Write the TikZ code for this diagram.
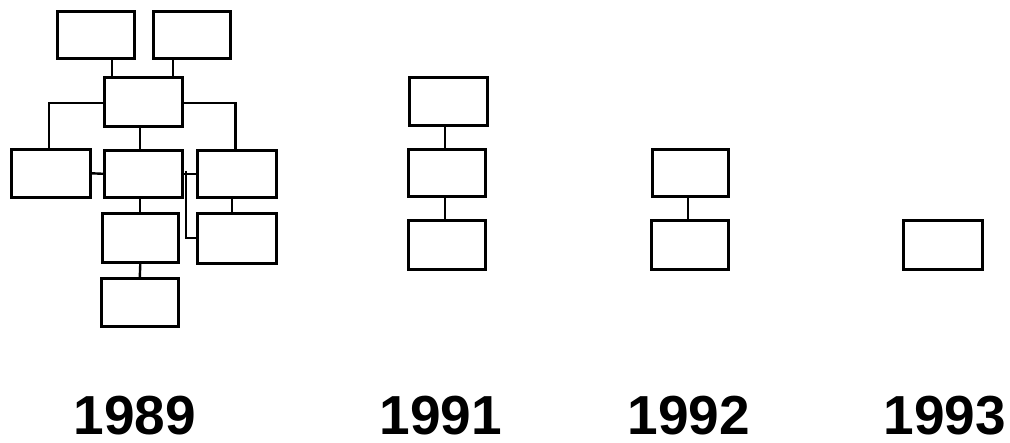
\documentclass[tikz,border=0pt]{standalone}
\usepackage{fontspec}
\setmainfont{Liberation Sans}
\begin{document}
\begin{tikzpicture}[x=1pt,y=-1pt,
  box/.style={draw=black, line width=2.6pt, fill=white, inner sep=0pt},
  link/.style={draw=black, line width=2.4pt},
  year/.style={font=\bfseries\fontsize{55}{55}\selectfont, anchor=base, inner sep=0pt, text depth=0pt}]
\useasboundingbox (0,0) rectangle (1010,443);
\newcommand{\bx}[5]{\node[box, minimum width={#4-#2}, minimum height={#5-#3}, anchor=north west] (#1) at (#2,#3) {};}
% 1989
\bx{A}{56}{10}{133}{57}
\bx{B}{152}{10}{229}{57}
\bx{C}{103}{76}{181}{125}
\bx{L}{10}{148}{89}{196}
\bx{M}{103}{149}{181}{196}
\bx{R}{196}{149}{275}{196}
\bx{MM}{101}{212}{177}{261}
\bx{RR}{196}{212}{275}{262}
\bx{BB}{100}{277}{177}{325}
\coordinate (xa) at (112,0);
\coordinate (xb) at (173,0);
\coordinate (xm) at (140,0);
\coordinate (xr) at (232,0);
\coordinate (j) at (186,171);
\draw[link] (A.south -| xa) -- (C.north -| xa);
\draw[link] (B.south -| xb) -- (C.north -| xb);
\draw[link] ([yshift=-1.5pt]C.west) -| ([xshift=-2pt]L.north);
\draw[link] ([yshift=-1.5pt]C.east) -| ([xshift=-1.5pt]R.north);
\draw[link] (C.south -| xm) -- (M.north -| xm);
\draw[link] (L.east) -- (M.west);
\draw[link] (M.east) -- (R.west);
\draw[link] (j) |- (RR.west);
\draw[link] (M.south -| xm) -- (MM.north -| xm);
\draw[link] (R.south -| xr) -- (RR.north -| xr);
\draw[link] (MM.south) -- (BB.north);
% 1991
\bx{P1}{408}{76}{486}{124}
\bx{P2}{407}{148}{484}{195}
\bx{P3}{407}{219}{484}{268}
\coordinate (xp) at (445,0);
\draw[link] (P1.south -| xp) -- (P2.north -| xp);
\draw[link] (P2.south -| xp) -- (P3.north -| xp);
% 1992
\bx{Q1}{651}{148}{727}{195}
\bx{Q2}{650}{219}{727}{268}
\coordinate (xq) at (688,0);
\draw[link] (Q1.south -| xq) -- (Q2.north -| xq);
% 1993
\bx{S1}{902}{219}{981}{268}
% years
\node[year] (y89) at (135,435) {1989};
\node[year] (y91) at (441,435) {1991};
\node[year] (y92) at (689,435) {1992};
\node[year] (y93) at (945,435) {1993};
\end{tikzpicture}
\end{document}
